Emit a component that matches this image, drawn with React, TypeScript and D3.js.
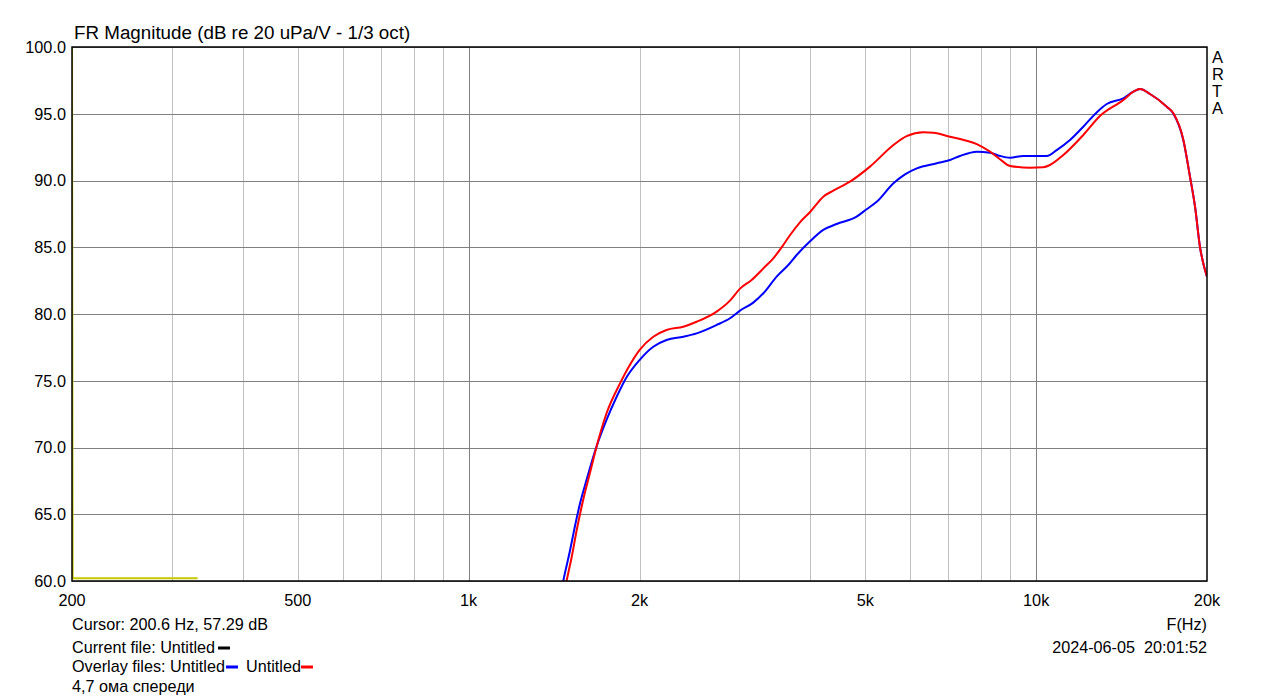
import React from "react";
import * as d3 from "d3";

const blueFreq = [1440, 1468, 1509, 1539, 1571, 1614, 1681, 1751, 1823, 1900, 2000, 2115, 2232, 2389, 2522, 2735, 2887, 3007, 3173, 3306, 3489, 3658, 3784, 4000, 4216, 4451, 4826, 5027, 5236, 5604, 5873, 6160, 6681, 7051, 7341, 7859, 8293, 8636, 8995, 9493, 10438, 10870, 11472, 12107, 12782, 13316, 14242, 14834, 15241, 15870, 16986, 17451, 18174, 18665, 19058, 19441, 19753, 20000];
const blueDb = [58, 60, 62.3, 64.1, 65.8, 67.6, 70.1, 72.1, 73.8, 75.3, 76.55, 77.55, 78.05, 78.3, 78.55, 79.18, 79.68, 80.25, 80.85, 81.55, 82.8, 83.67, 84.42, 85.47, 86.3, 86.74, 87.29, 87.85, 88.4, 89.79, 90.46, 90.91, 91.29, 91.54, 91.84, 92.16, 92.08, 91.84, 91.71, 91.84, 91.84, 92.28, 93.03, 94.03, 95.1, 95.73, 96.16, 96.65, 96.85, 96.48, 95.53, 95.0, 93.0, 90.3, 88.0, 85.0, 83.6, 82.8];

const redFreq = [1460, 1488, 1519, 1550, 1592, 1636, 1681, 1751, 1848, 1924, 2000, 2115, 2232, 2389, 2522, 2735, 2887, 3007, 3152, 3306, 3442, 3584, 3685, 3835, 4000, 4216, 4391, 4697, 5095, 5604, 5913, 6329, 6591, 7051, 7543, 7859, 8293, 8636, 8995, 9753, 10290, 10575, 11164, 12107, 12955, 14242, 14834, 15241, 15870, 16986, 17451, 18174, 18665, 19058, 19441, 19753, 20000];
const redDb = [58, 60, 61.8, 63.8, 66.1, 68.1, 70.1, 72.6, 74.8, 76.2, 77.3, 78.3, 78.8, 79.05, 79.42, 80.18, 81.0, 81.9, 82.55, 83.42, 84.17, 85.17, 85.92, 86.87, 87.66, 88.79, 89.24, 89.91, 91.04, 92.66, 93.33, 93.61, 93.58, 93.28, 92.98, 92.73, 92.16, 91.59, 91.09, 90.96, 90.99, 91.16, 91.91, 93.41, 94.83, 96.03, 96.65, 96.85, 96.48, 95.53, 95.03, 93.03, 90.28, 88.0, 85.0, 83.6, 82.8];

const yellowFreq = [200, 200.5, 333];
const yellowDb = [101, 60.2, 60.2];

const yTicks = [60, 65, 70, 75, 80, 85, 90, 95, 100];
const xMinorTicks = [300, 400, 500, 600, 700, 800, 900, 2000, 3000, 4000, 5000, 6000, 7000, 8000, 9000];
const xMajorTicks = [1000, 10000];
const xLabelValues = [200, 500, 1000, 2000, 5000, 10000, 20000];
const xLabelTexts = ["200", "500", "1k", "2k", "5k", "10k", "20k"];

const L = 72, R = 1207, T = 47, B = 581;
const FONT = "Liberation Sans, Arial, sans-serif";

export default function App() {
  const x = d3.scaleLog().domain([200, 20000]).range([L, R]);
  const y = d3.scaleLinear().domain([60, 100]).range([B, T]);
  const line = d3.line<[number, number]>().x(d => x(d[0])).y(d => y(d[1])).curve(d3.curveMonotoneX);
  const blue = blueFreq.map((f, i) => [f, blueDb[i]] as [number, number]);
  const red = redFreq.map((f, i) => [f, redDb[i]] as [number, number]);
  const yellow = yellowFreq.map((f, i) => [f, yellowDb[i]] as [number, number]);
  const yLine = d3.line<[number, number]>().x(d => x(d[0])).y(d => y(d[1]));

  return (
    <svg width={1279} height={699} style={{ position: "absolute", left: 0, top: 0, background: "#fff" }} fontFamily={FONT}>
      <defs>
        <clipPath id="plot">
          <rect x={L} y={T} width={R - L} height={B - T} />
        </clipPath>
      </defs>
      <rect x={0} y={0} width={1279} height={699} fill="#fff" />
      {xMinorTicks.map(t => (
        <line key={"xm" + t} x1={Math.round(x(t)) + 0.5} x2={Math.round(x(t)) + 0.5} y1={T} y2={B} stroke="#c0c0c0" strokeWidth={1} />
      ))}
      {yTicks.map(t => (
        <line key={"yg" + t} x1={L} x2={R} y1={Math.round(y(t)) + 0.5} y2={Math.round(y(t)) + 0.5} stroke="#808080" strokeWidth={1} />
      ))}
      {xMajorTicks.map(t => (
        <line key={"xM" + t} x1={Math.round(x(t)) + 0.5} x2={Math.round(x(t)) + 0.5} y1={T} y2={B} stroke="#808080" strokeWidth={1} />
      ))}
      <g clipPath="url(#plot)">
        <path d={yLine(yellow) || ""} fill="none" stroke="#c8c800" strokeWidth={2} />
        <path d={line(blue) || ""} fill="none" stroke="#0000ff" strokeWidth={2} />
        <path d={line(red) || ""} fill="none" stroke="#ff0000" strokeWidth={2} />
      </g>
      <rect x={L} y={T} width={R - L} height={B - T} fill="none" stroke="#000" strokeWidth={1.5} />
      {yTicks.map(t => (
        <text key={"yl" + t} x={66} y={y(t)} dy="0.36em" textAnchor="end" fontSize={16.3} fill="#000">{t.toFixed(1)}</text>
      ))}
      {xLabelValues.map((t, i) => (
        <text key={"xl" + t} x={x(t)} y={600} dy="0.36em" textAnchor="middle" fontSize={16.3} fill="#000">{xLabelTexts[i]}</text>
      ))}
      <text x={74} y={32} dy="0.36em" fontSize={18.8} fill="#000">FR Magnitude (dB re 20 uPa/V - 1/3 oct)</text>
      {["A", "R", "T", "A"].map((c, i) => (
        <text key={"arta" + i} x={1212} y={57 + i * 17} dy="0.36em" fontSize={16.5} fill="#000">{c}</text>
      ))}
      <text x={72} y={624} dy="0.36em" fontSize={16.2} fill="#000">Cursor: 200.6 Hz, 57.29 dB</text>
      <text x={72} y={647} dy="0.36em" fontSize={16.2} fill="#000">Current file: Untitled</text>
      <line x1={218} x2={230} y1={648} y2={648} stroke="#000" strokeWidth={3} />
      <text x={72} y={666} dy="0.36em" fontSize={16.2} fill="#000">Overlay files: Untitled</text>
      <line x1={226} x2={238} y1={667} y2={667} stroke="#0000ff" strokeWidth={3} />
      <text x={246} y={666} dy="0.36em" fontSize={16.2} fill="#000">Untitled</text>
      <line x1={301} x2={313} y1={667} y2={667} stroke="#ff0000" strokeWidth={3} />
      <text x={72} y={686} dy="0.36em" fontSize={16.2} fill="#000">4,7 ома спереди</text>
      <text x={1207} y={624} dy="0.36em" textAnchor="end" fontSize={16.2} fill="#000">F(Hz)</text>
      <text x={1207} y={647} dy="0.36em" textAnchor="end" fontSize={16.2} fill="#000" style={{ whiteSpace: "pre" }}>2024-06-05  20:01:52</text>
    </svg>
  );
}
